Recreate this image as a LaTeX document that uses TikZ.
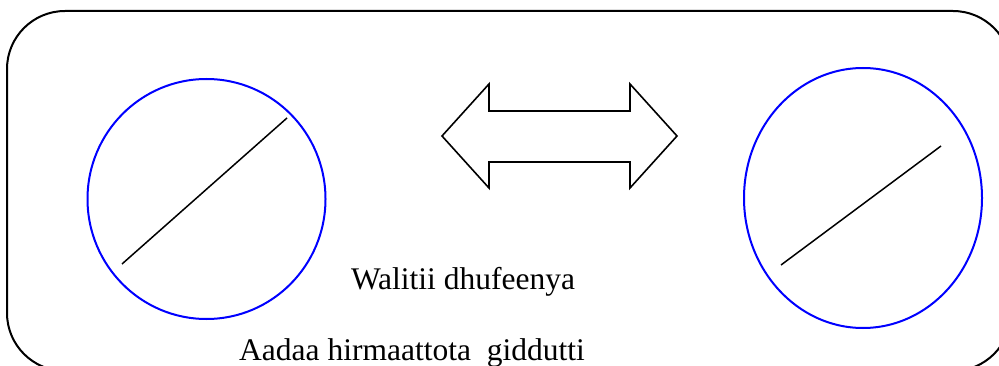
\documentclass[tikz,border=0pt]{standalone}
\usepackage{fontspec}
\setmainfont{Liberation Serif}
\usetikzlibrary{shapes.geometric}
\begin{document}
\begin{tikzpicture}[x=1pt,y=-1pt,
  frame/.style={draw=black,line width=2pt,rounded corners=58pt},
  disc/.style={ellipse,draw=blue,line width=2pt,inner sep=0pt},
  bar/.style={draw=black,line width=1.5pt},
  dblarrow/.style={draw=black,line width=1.6pt,line join=miter},
  lbl/.style={font=\fontsize{31.5}{36}\selectfont,inner sep=0pt,anchor=base}]
\useasboundingbox (0,0) rectangle (999,366);
\clip (0,0) rectangle (999,366);
\draw[frame] (7,11) rectangle (1011,371);
\node[disc,minimum width=238pt,minimum height=240pt] (c1) at (206.5,199) {};
\node[disc,minimum width=238pt,minimum height=260pt] (c2) at (863,198) {};
\coordinate (a1) at (122,264);
\coordinate (b1) at (287,118);
\coordinate (a2) at (781,265);
\coordinate (b2) at (941,146);
\draw[bar] (a1) -- (b1);
\draw[bar] (a2) -- (b2);
\draw[dblarrow] (442,136) -- (489,84) -- (489,111) -- (630,111) -- (630,84)
  -- (677,136) -- (630,188) -- (630,162) -- (489,162) -- (489,188) -- cycle;
\node[lbl] (t1) at (463,290) {Walitii dhufeenya};
\node[lbl] (t2) at (412,360) {Aadaa hirmaattota\ \ giddutti};
\end{tikzpicture}
\end{document}
